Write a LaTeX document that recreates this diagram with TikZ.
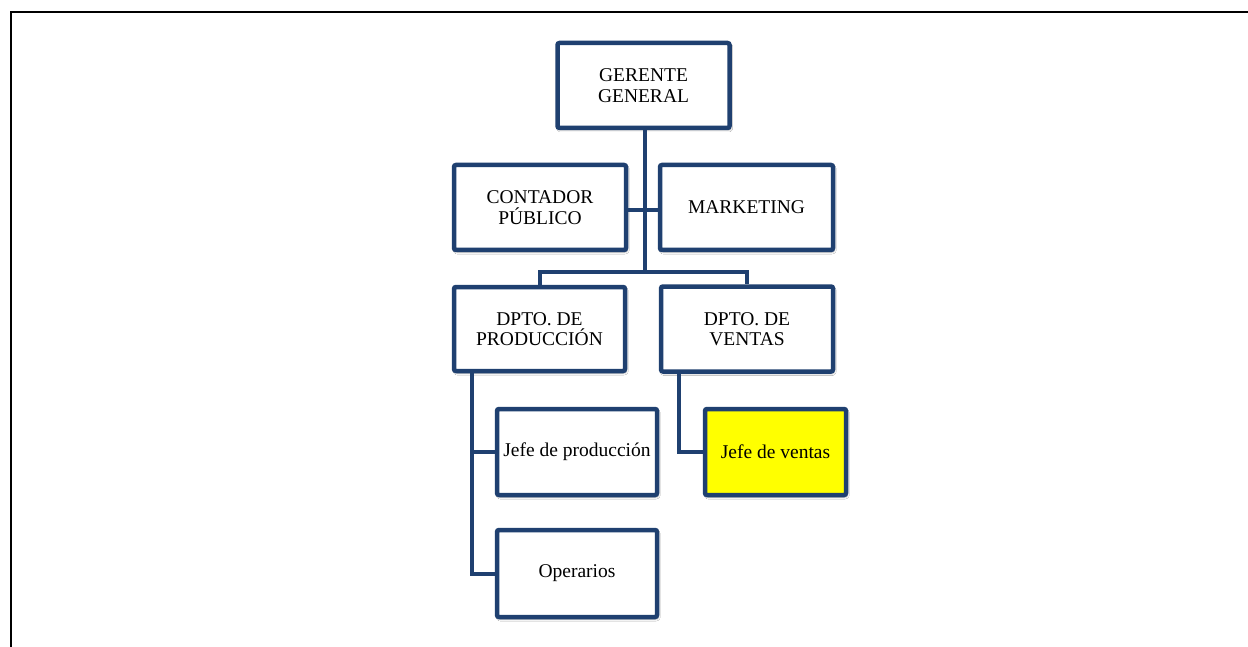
\documentclass[tikz,border=0pt]{standalone}
\usepackage{fontspec}
\setmainfont{Liberation Serif}
\usetikzlibrary{shadows.blur}
\definecolor{orgblue}{RGB}{31,64,112}
\definecolor{hiyellow}{RGB}{255,255,0}
\begin{document}
\begin{tikzpicture}[x=1pt,y=-1pt,
  orgbox/.style={draw=orgblue, line width=4.5pt, rounded corners=2pt, fill=white,
    minimum width=172pt, minimum height=85pt, inner sep=0pt, align=center,
    font=\fontsize{19.5}{20.5}\selectfont,
    blur shadow={shadow blur steps=6, shadow xshift=1.2pt, shadow yshift=-2pt, shadow opacity=35, shadow blur radius=2pt}},
  conn/.style={draw=orgblue, line width=4pt},
  frame/.style={draw=black, line width=2.6pt}]
\useasboundingbox (0,0) rectangle (1248,647);
\fill[white] (0,0) rectangle (1248,647);
\coordinate (fTR) at (1248,12);
\coordinate (fTL) at (11,12);
\coordinate (fBL) at (11,647);
\draw[frame] (fTR) -- (fTL) -- (fBL);

% connectors first (behind boxes)
\coordinate (trunkTop) at (645,129);
\coordinate (bar) at (645,272);
\coordinate (midC) at (645,210);
\coordinate (prodLine) at (472,372);
\coordinate (ventLine) at (679,372);

\node[orgbox] (gg) at (643.5,85.5) {GERENTE\\GENERAL};
\node[orgbox] (cp) at (540,207.5) {CONTADOR\\PÚBLICO};
\node[orgbox, minimum width=173pt] (mk) at (746.5,207.5) {MARKETING};
\node[orgbox, minimum width=171pt, minimum height=84pt] (dp) at (539.5,329) {DPTO. DE\\PRODUCCIÓN};
\node[orgbox] (dv) at (747,329) {DPTO. DE\\VENTAS};
\node[orgbox, minimum width=160pt, minimum height=86pt] (jp) at (577,452) {Jefe de producción};
\node[orgbox, minimum width=141pt, minimum height=86pt, fill=hiyellow] (jv) at (775.5,452) {Jefe de ventas};
\node[orgbox, minimum width=160pt, minimum height=87pt] (op) at (577,573.5) {Operarios};

\begin{scope}[on background layer/.style={}]
\end{scope}
\draw[conn] (gg.south -| trunkTop) -- (bar);
\draw[conn] (cp.east |- midC) -- (mk.west |- midC);
\draw[conn] (bar) -| (dp.north);
\draw[conn] (bar) -| (dv.north);
\draw[conn] (dp.south -| prodLine) |- (jp.west);
\draw[conn] (dp.south -| prodLine) |- (op.west);
\draw[conn] (dv.south -| ventLine) |- (jv.west);
\end{tikzpicture}
\end{document}
